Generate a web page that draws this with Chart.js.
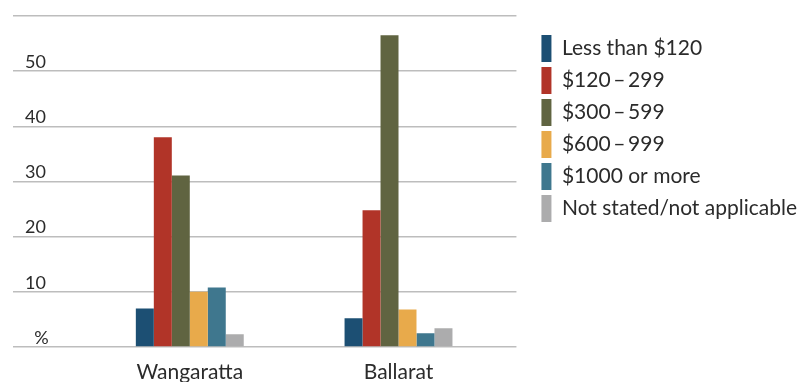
<!DOCTYPE html>
<html>
<head>
<meta charset="utf-8">
<script src="https://cdn.jsdelivr.net/npm/chart.js@4/dist/chart.umd.min.js"></script>
<style>
  html, body { margin: 0; padding: 0; background: #fff; }
  #wrap { width: 798px; height: 382px; }
</style>
</head>
<body>
<div id="wrap"><canvas id="rentChart"></canvas></div>
<script>
// Categories and series (percent of households)
var categories = ["Wangaratta", "Ballarat"];
var seriesNames = ["Less than $120", "$120\u2009\u2013\u2009299", "$300\u2009\u2013\u2009599", "$600\u2009\u2013\u2009999", "$1000 or more", "Not stated/not applicable"];
var lessThan120 = [7.0, 5.2];
var from120to299 = [38.0, 24.8];
var from300to599 = [31.1, 56.5];
var from600to999 = [10.0, 6.8];
var over1000 = [10.8, 2.5];
var notStated = [2.3, 3.4];
var seriesValues = [lessThan120, from120to299, from300to599, from600to999, over1000, notStated];
var seriesColors = ["#1c4f73", "#b13428", "#606441", "#e8aa4b", "#3f778e", "#acacad"];
var yTicks = [0, 10, 20, 30, 40, 50, 60];

var datasets = seriesNames.map(function (name, s) {
    return {
        label: name,
        data: seriesValues[s].map(function (v, i) { return { x: i, y: v }; }),
        backgroundColor: seriesColors[s],
        borderWidth: 0,
        categoryPercentage: 0.517,
        barPercentage: 1.0
    };
});

var chartCanvas = document.getElementById("rentChart");
var rentChart = new Chart(chartCanvas, {
    type: "bar",
    data: { datasets: datasets },
    options: {
        responsive: true,
        maintainAspectRatio: false,
        animation: false,
        layout: { padding: { left: -11, top: 16, right: -9, bottom: -16 } },
        scales: {
            x: {
                type: "linear",
                offset: false,
                min: -0.847,
                max: 1.565,
                grid: { display: false, drawTicks: false },
                border: { display: false },
                afterBuildTicks: function (scale) {
                    scale.ticks = categories.map(function (c, i) { return { value: i }; });
                },
                ticks: {
                    color: "#2b2b2b",
                    font: { family: "Lato", size: 21, lineHeight: 1.0 },
                    padding: 15,
                    maxRotation: 0,
                    callback: function (value) { return categories[value]; }
                }
            },
            y: {
                min: 0,
                max: 60,
                afterBuildTicks: function (scale) {
                    scale.ticks = yTicks.map(function (v) { return { value: v }; });
                },
                // labels sit inside the plot, so no extra room above/below is needed
                afterFit: function (scale) {
                    scale.paddingTop = 0;
                    scale.paddingBottom = 0;
                },
                grid: { color: "#bdbdbd", lineWidth: 1.5, drawTicks: false },
                border: { display: false },
                ticks: {
                    mirror: true,
                    padding: 12,
                    labelOffset: -9,
                    color: "#2b2b2b",
                    font: { family: "Lato", size: 18 },
                    callback: function (value) {
                        if (value === 0) return "  %";
                        if (value === 60) return "";
                        return value;
                    }
                }
            },
            gap: {
                type: "linear",
                position: "right",
                display: true,
                grid: { display: false, drawTicks: false },
                border: { display: false },
                ticks: { display: false },
                afterFit: function (scale) { scale.width = 20; }
            }
        },
        plugins: {
            legend: {
                position: "right",
                align: "start",
                maxWidth: 300,
                title: { display: true, text: " ", font: { size: 10, lineHeight: 1.0 }, padding: { top: 0, bottom: 4 } },
                labels: {
                    boxWidth: 10,
                    boxHeight: 27,
                    padding: 5,
                    color: "#2b2b2b",
                    font: { family: "Lato", size: 21 }
                }
            },
            tooltip: { enabled: false }
        }
    }
});
</script>
</body>
</html>
